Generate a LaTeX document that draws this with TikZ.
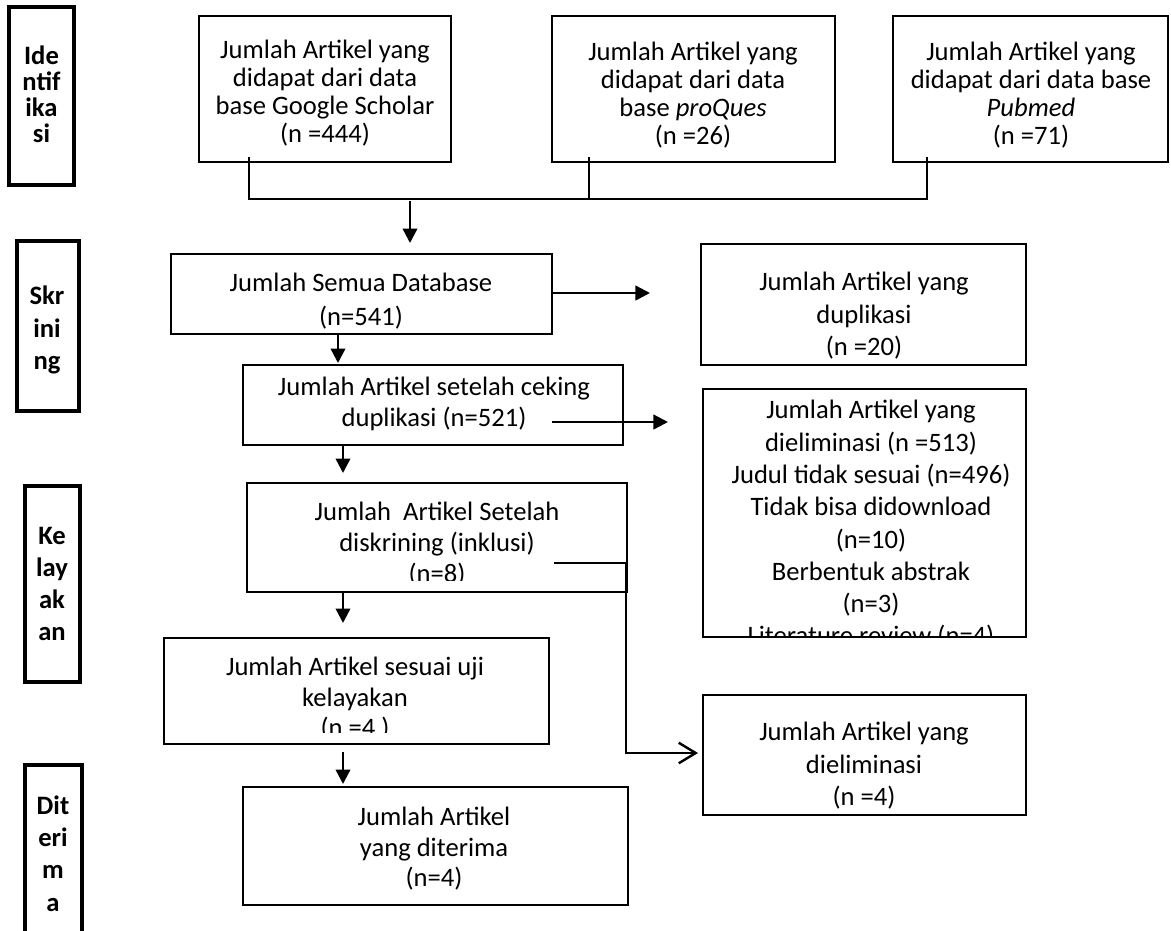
\documentclass[tikz,border=0pt]{standalone}
\usepackage{fontspec}
\setmainfont{Carlito}
\usetikzlibrary{arrows.meta,fit}

\tikzset{
  box/.style={draw, line width=0.8pt, inner sep=0pt},
  stagebox/.style={draw, line width=1.3pt, inner sep=0pt},
  txt/.style={align=center, inner sep=0pt, anchor=north},
  arr/.style={line width=1pt, -{Triangle[length=6pt,width=6pt]}},
  openarr/.style={line width=1pt, -{Straight Barb[length=7pt,width=8.5pt,line width=1pt]}},
  link/.style={line width=0.6pt},
}
\newcommand{\txtfont}[1]{\fontsize{11pt}{#1}\selectfont}

\begin{document}
\begin{tikzpicture}[x=0.4135pt, y=-0.4135pt]
\useasboundingbox (0,0) rectangle (1171,930);

% stage labels on the left
\node[stagebox, fit={(9,7) (74,185)}] (identifikasi) {};
\node[txt, font=\txtfont{10.75pt}\bfseries] (identifikasitxt) at (41.5,45) {Ide\\ntif\\ika\\si};
\node[stagebox, fit={(17,241) (79,411)}] (skrining) {};
\node[txt, font=\txtfont{13.6pt}\bfseries] (skriningtxt) at (47,285) {Skr\\ini\\ng};
\node[stagebox, fit={(25,486) (80,682)}] (kelayakan) {};
\node[txt, font=\txtfont{13.2pt}\bfseries] (kelayakantxt) at (52,527) {Ke\\lay\\ak\\an};
\node[stagebox, fit={(25,765) (82,945)}] (diterima) {};
\node[txt, font=\txtfont{13.4pt}\bfseries] (diterimatxt) at (53,795) {Dit\\eri\\m\\a};

% identifikasi: the three databases
\node[box, fit={(199,16) (451,162)}] (google) {};
\node[txt, font=\txtfont{11.45pt}] (googletxt) at (325,40) {Jumlah Artikel yang\\didapat dari data\\base Google Scholar\\(n =444)};
\node[box, fit={(552,16) (835,162)}] (proques) {};
\node[txt, font=\txtfont{11.45pt}] (proquestxt) at (693,42) {Jumlah Artikel yang\\didapat dari data\\base \textit{proQues}\\(n =26)};
\node[box, fit={(893,16) (1168,162)}] (pubmed) {};
\node[txt, font=\txtfont{11.45pt}] (pubmedtxt) at (1031,42) {Jumlah Artikel yang\\didapat dari data base\\\textit{Pubmed}\\(n =71)};

\coordinate (gdown) at (249,157);
\coordinate (pdown) at (589,157);
\coordinate (mdown) at (927,157);
\coordinate (joinl) at (249,199);
\coordinate (joinr) at (927,199);
\draw[link] (gdown) -- (joinl) -- (joinr) -- (mdown);
\draw[link] (pdown) -- (pdown |- joinl);

% skrining
\node[box, fit={(171,254) (552,334)}] (semua) {};
\node[txt, font=\txtfont{14pt}] (semuatxt) at (361,273) {Jumlah Semua Database\\(n=541)};
\node[box, fit={(701,244) (1026,365)}] (duplikasi) {};
\node[txt, font=\txtfont{13.4pt}] (duplikasitxt) at (864,272) {Jumlah Artikel yang\\duplikasi\\(n =20)};
\node[box, fit={(243,365) (623,445)}] (ceking) {};
\node[txt, font=\txtfont{12.8pt}] (cekingtxt) at (434,377) {Jumlah Artikel setelah ceking\\duplikasi (n=521)};
\node[box, fit={(703,389) (1026,637)}] (eliminasi) {};
\begin{scope}
  \clip (703,389) rectangle (1026,635);
  \node[txt, font=\txtfont{13.35pt}] (eliminasitxt) at (871,400) {Jumlah Artikel yang\\dieliminasi (n =513)\\Judul tidak sesuai (n=496)\\Tidak bisa didownload\\(n=10)\\Berbentuk abstrak\\(n=3)\\Literature review (n=4)};
\end{scope}

% kelayakan
\node[box, fit={(247,483) (627,592)}] (inklusi) {};
\begin{scope}
  \clip (247,483) rectangle (627,580);
  \node[txt, font=\txtfont{12.8pt}] (inklusitxt) at (437,502) {Jumlah~ Artikel Setelah\\diskrining (inklusi)\\(n=8)};
\end{scope}
\node[box, fit={(164,638) (549,744)}] (sesuai) {};
\begin{scope}
  \clip (164,638) rectangle (549,732);
  \node[txt, font=\txtfont{12.6pt}] (sesuaitxt) at (355,657) {Jumlah Artikel sesuai uji\\kelayakan\\(n =4 )};
\end{scope}
\node[box, fit={(703,695) (1026,815)}] (eliminasib) {};
\node[txt, font=\txtfont{13.4pt}] (eliminasibtxt) at (864,722) {Jumlah Artikel yang\\dieliminasi\\(n =4)};

% diterima
\node[box, fit={(243,787) (628,905)}] (terima) {};
\node[txt, font=\txtfont{12.6pt}] (terimatxt) at (434,807) {Jumlah Artikel\\yang diterima\\(n=4)};

% arrows
\coordinate (a1s) at (410,201);
\coordinate (a1e) at (410,243);
\coordinate (a2e) at (650,293);
\coordinate (a3s) at (338,334);
\coordinate (a3e) at (338,363);
\coordinate (a4s) at (552,422);
\coordinate (a4e) at (668,422);
\coordinate (a5s) at (343,446);
\coordinate (a5e) at (343,473);
\coordinate (a6s) at (343,592);
\coordinate (a6e) at (343,623);
\coordinate (a7s) at (343,752);
\coordinate (a7e) at (343,784);
\coordinate (b1) at (554,563);
\coordinate (b2) at (626,563);
\coordinate (b3) at (626,753);
\coordinate (b4) at (698,753);

\draw[arr] (a1s) -- (a1e);
\draw[arr] (semua.east |- a2e) -- (a2e);
\draw[arr] (a3s) -- (a3e);
\draw[arr] (a4s) -- (a4e);
\draw[arr] (a5s) -- (a5e);
\draw[arr] (a6s) -- (a6e);
\draw[arr] (a7s) -- (a7e);
\draw[openarr] (b1) -- (b2) -- (b3) -- (b4);
\end{tikzpicture}
\end{document}
